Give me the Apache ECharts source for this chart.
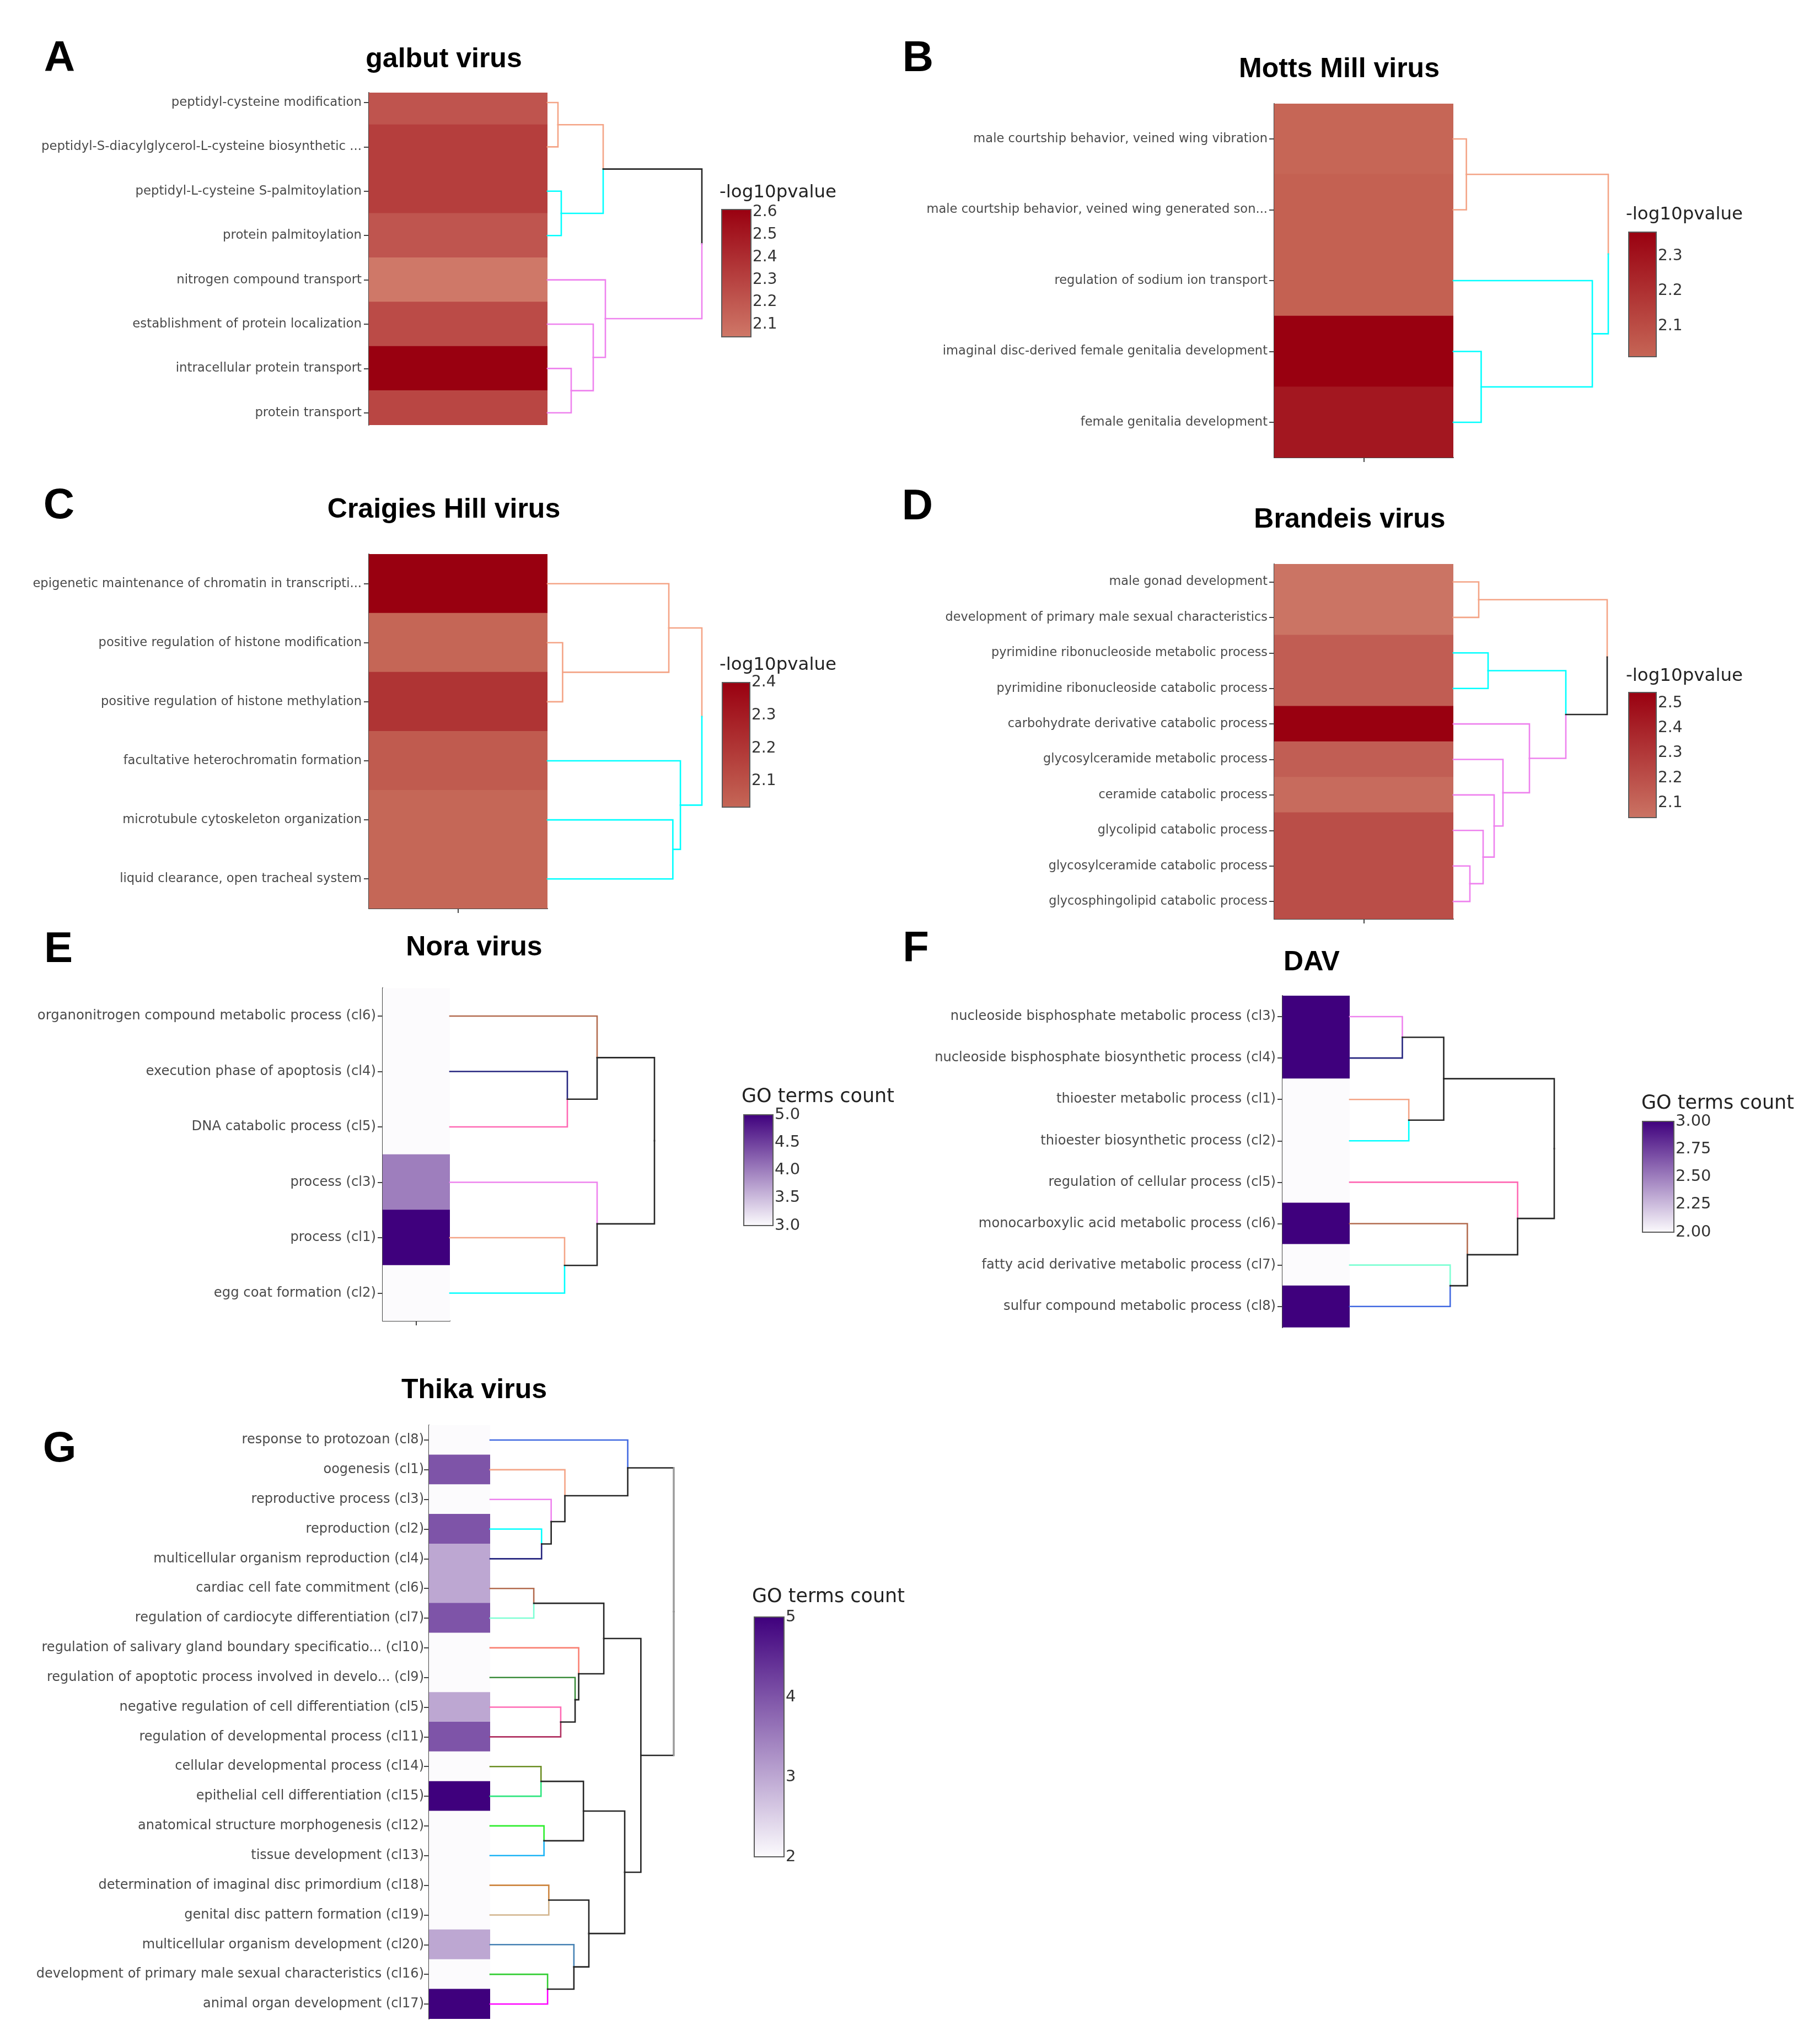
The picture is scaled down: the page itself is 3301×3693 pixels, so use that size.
<!DOCTYPE html>
<html>
<head>
<meta charset="utf-8">
<script src="https://cdn.jsdelivr.net/npm/echarts@6/dist/echarts.min.js"></script>
<style>html,body{margin:0;padding:0;background:#fff}#c{width:3301px;height:3693px}</style>
</head>
<body>
<div id="c"></div>
<script>
// ================= DATA =================
// A: galbut virus
const galbutTerms = ["peptidyl-cysteine modification", "peptidyl-S-diacylglycerol-L-cysteine biosynthetic ...", "peptidyl-L-cysteine S-palmitoylation", "protein palmitoylation", "nitrogen compound transport", "establishment of protein localization", "intracellular protein transport", "protein transport"];
const galbutValues = [2.216, 2.32, 2.32, 2.21, 2.046, 2.258, 2.612, 2.281];
const galbutClusters = ["cl1", "cl1", "cl2", "cl2", "cl3", "cl3", "cl3", "cl3"];
const galbutMerges = [[0, 1, 19], [2, 3, 25], [8, 9, 101], [6, 7, 43], [5, 11, 83], [4, 12, 105], [10, 13, 280]];
const galbutTicks = [2.1, 2.2, 2.3, 2.4, 2.5, 2.6];

// B: Motts Mill virus
const mottsTerms = ["male courtship behavior, veined wing vibration", "male courtship behavior, veined wing generated son...", "regulation of sodium ion transport", "imaginal disc-derived female genitalia development", "female genitalia development"];
const mottsValues = [2.012, 2.03, 2.03, 2.369, 2.287];
const mottsClusters = ["cl1", "cl1", "cl2", "cl2", "cl2"];
const mottsMerges = [[0, 1, 23.6], [3, 4, 50.4], [2, 6, 251.8], [5, 7, 280.7]];
const mottsTicks = [2.1, 2.2, 2.3];

// C: Craigies Hill virus
const craigiesTerms = ["epigenetic maintenance of chromatin in transcripti...", "positive regulation of histone modification", "positive regulation of histone methylation", "facultative heterochromatin formation", "microtubule cytoskeleton organization", "liquid clearance, open tracheal system"];
const craigiesValues = [2.4, 2.025, 2.21, 2.066, 2.021, 2.021];
const craigiesClusters = ["cl1", "cl1", "cl1", "cl2", "cl2", "cl2"];
const craigiesMerges = [[1, 2, 27.4], [0, 6, 219.9], [4, 5, 227.2], [3, 8, 240.9], [7, 9, 279.8]];
const craigiesTicks = [2.1, 2.2, 2.3, 2.4];

// D: Brandeis virus
const brandeisTerms = ["male gonad development", "development of primary male sexual characteristics", "pyrimidine ribonucleoside metabolic process", "pyrimidine ribonucleoside catabolic process", "carbohydrate derivative catabolic process", "glycosylceramide metabolic process", "ceramide catabolic process", "glycolipid catabolic process", "glycosylceramide catabolic process", "glycosphingolipid catabolic process"];
const brandeisValues = [2.041, 2.041, 2.142, 2.142, 2.544, 2.138, 2.08, 2.207, 2.207, 2.207];
const brandeisClusters = ["cl1", "cl1", "cl2", "cl2", "cl3", "cl3", "cl3", "cl3", "cl3", "cl3"];
const brandeisMerges = [[0, 1, 46], [2, 3, 63], [8, 9, 30], [7, 12, 54], [6, 13, 74], [5, 14, 90], [4, 15, 138], [11, 16, 204], [10, 17, 279]];
const brandeisTicks = [2.1, 2.2, 2.3, 2.4, 2.5];

// E: Nora virus
const noraTerms = ["organonitrogen compound metabolic process (cl6)", "execution phase of apoptosis (cl4)", "DNA catabolic process (cl5)", "process (cl3)", "process (cl1)", "egg coat formation (cl2)"];
const noraValues = [3, 3, 3, 4, 5, 3];
const noraClusters = ["cl6", "cl4", "cl5", "cl3", "cl1", "cl2"];
const noraMerges = [[1, 2, 213], [0, 6, 267], [4, 5, 208], [3, 8, 267], [7, 9, 371]];
const noraTicks = [3.0, 3.5, 4.0, 4.5, 5.0];

// F: DAV
const davTerms = ["nucleoside bisphosphate metabolic process (cl3)", "nucleoside bisphosphate biosynthetic process (cl4)", "thioester metabolic process (cl1)", "thioester biosynthetic process (cl2)", "regulation of cellular process (cl5)", "monocarboxylic acid metabolic process (cl6)", "fatty acid derivative metabolic process (cl7)", "sulfur compound metabolic process (cl8)"];
const davValues = [3, 3, 2, 2, 2, 3, 2, 3];
const davClusters = ["cl3", "cl4", "cl1", "cl2", "cl5", "cl6", "cl7", "cl8"];
const davMerges = [[0, 1, 95.4], [2, 3, 107.1], [8, 9, 170.4], [6, 7, 182.1], [5, 11, 213.2], [4, 12, 304.3], [10, 13, 370.7]];
const davTicks = [2.0, 2.25, 2.5, 2.75, 3.0];

// G: Thika virus
const thikaTerms = ["response to protozoan (cl8)", "oogenesis (cl1)", "reproductive process (cl3)", "reproduction (cl2)", "multicellular organism reproduction (cl4)", "cardiac cell fate commitment (cl6)", "regulation of cardiocyte differentiation (cl7)", "regulation of salivary gland boundary specificatio... (cl10)", "regulation of apoptotic process involved in develo... (cl9)", "negative regulation of cell differentiation (cl5)", "regulation of developmental process (cl11)", "cellular developmental process (cl14)", "epithelial cell differentiation (cl15)", "anatomical structure morphogenesis (cl12)", "tissue development (cl13)", "determination of imaginal disc primordium (cl18)", "genital disc pattern formation (cl19)", "multicellular organism development (cl20)", "development of primary male sexual characteristics (cl16)", "animal organ development (cl17)"];
const thikaValues = [2, 4, 2, 4, 3, 3, 4, 2, 2, 3, 4, 2, 5, 2, 2, 2, 2, 3, 2, 5];
const thikaClusters = ["cl8", "cl1", "cl3", "cl2", "cl4", "cl6", "cl7", "cl10", "cl9", "cl5", "cl11", "cl14", "cl15", "cl12", "cl13", "cl18", "cl19", "cl20", "cl16", "cl17"];
const thikaMerges = [[3, 4, 93.2], [2, 20, 110.6], [1, 21, 135.5], [0, 22, 249.4], [5, 6, 79.1], [9, 10, 127.9], [8, 25, 154], [7, 26, 160.5], [24, 27, 206], [11, 12, 92.2], [13, 14, 97.6], [29, 30, 169.1], [15, 16, 106.3], [18, 19, 104.1], [17, 33, 151.8], [32, 34, 178.9], [31, 35, 243.9], [28, 36, 273.2], [23, 37, 332.8]];
const thikaTicks = [2, 3, 4, 5];

// ================= STYLE / LAYOUT =================
const PAL = {cl1:'#F4A486', cl2:'#00FFFF', cl3:'#EE82EE', cl4:'#25257F', cl5:'#FF69B4', cl6:'#B36C4F', cl7:'#7FFFD4', cl8:'#4169E1', cl9:'#3B8C3B', cl10:'#FA8072', cl11:'#B03060', cl12:'#2DEE2D', cl13:'#1EB4F5', cl14:'#6B8E23', cl15:'#2EE57E', cl16:'#32CD32', cl17:'#FF00FF', cl18:'#CD853F', cl19:'#D2B48C', cl20:'#4682B4'};
const MIX = '#262626';
const PURPLE = ['#FCFBFD', '#3F007D'];

const panels = [
  {letter:'A', title:'galbut virus', terms:galbutTerms, values:galbutValues, clusters:galbutClusters, merges:galbutMerges, ticks:galbutTicks, dec:1,
   letterPos:[108,107], titlePos:[805,108], heat:[669,168,993,771], row0:186, step:80.4, rootX:1273, bottomAxis:false,
   cb:[1309,380,1362,611], cbTitle:'-log10pvalue', cbTitlePos:[1305,350], colors:['#CF7868','#990010'], labelSize:22.8, labelMargin:13, cbTitleSize:32.5, tickSize:28},
  {letter:'B', title:'Motts Mill virus', terms:mottsTerms, values:mottsValues, clusters:mottsClusters, merges:mottsMerges, ticks:mottsTicks, dec:1,
   letterPos:[1665,107], titlePos:[2429,126], heat:[2311,188,2636,830], row0:252, step:128.5, rootX:2917, bottomAxis:true,
   cb:[2954,421,3004,647], cbTitle:'-log10pvalue', cbTitlePos:[2949,390], colors:['#C66656','#990010'], labelSize:22.6, labelMargin:12, cbTitleSize:32.5, tickSize:28},
  {letter:'C', title:'Craigies Hill virus', terms:craigiesTerms, values:craigiesValues, clusters:craigiesClusters, merges:craigiesMerges, ticks:craigiesTicks, dec:1,
   letterPos:[107,918], titlePos:[805,925], heat:[669,1005,993,1648], row0:1058.7, step:107.1, rootX:1273, bottomAxis:true,
   cb:[1310,1238,1360,1464], cbTitle:'-log10pvalue', cbTitlePos:[1305,1207], colors:['#C56757','#990010'], labelSize:22.6, labelMargin:13, cbTitleSize:32.5, tickSize:28},
  {letter:'D', title:'Brandeis virus', terms:brandeisTerms, values:brandeisValues, clusters:brandeisClusters, merges:brandeisMerges, ticks:brandeisTicks, dec:1,
   letterPos:[1664,920], titlePos:[2448,943], heat:[2311,1023,2636,1667], row0:1055.5, step:64.4, rootX:2915, bottomAxis:true,
   cb:[2954,1256,3004,1483], cbTitle:'-log10pvalue', cbTitlePos:[2949,1227], colors:['#CB7464','#990010'], labelSize:22.4, labelMargin:12, cbTitleSize:32.5, tickSize:28},
  {letter:'E', title:'Nora virus', terms:noraTerms, values:noraValues, clusters:noraClusters, merges:noraMerges, ticks:noraTicks, dec:1,
   letterPos:[106,1723], titlePos:[860,1719], heat:[694,1792,816,2396], row0:1843, step:100.5, rootX:1187, bottomAxis:true,
   cb:[1349,2022,1402,2223], cbTitle:'GO terms count', cbTitlePos:[1345,1990], colors:PURPLE, labelSize:24.3, labelMargin:12, cbTitleSize:35, tickSize:29},
  {letter:'F', title:'DAV', terms:davTerms, values:davValues, clusters:davClusters, merges:davMerges, ticks:davTicks, dec:2,
   letterPos:[1661,1722], titlePos:[2379,1746], heat:[2326,1806,2448,2408], row0:1844, step:75.1, rootX:2819, bottomAxis:false,
   cb:[2979,2034,3036,2235], cbTitle:'GO terms count', cbTitlePos:[2977,2002], colors:PURPLE, labelSize:24.2, labelMargin:12, cbTitleSize:35, tickSize:29},
  {letter:'G', title:'Thika virus', terms:thikaTerms, values:thikaValues, clusters:thikaClusters, merges:thikaMerges, ticks:thikaTicks, dec:0,
   letterPos:[108,2629], titlePos:[860,2522], heat:[778,2585,889,3662], row0:2612, step:53.84, rootX:1222, bottomAxis:false,
   cb:[1368,2933,1422,3368], cbTitle:'GO terms count', cbTitlePos:[1364,2897], colors:PURPLE, labelSize:24, labelMargin:9, cbTitleSize:35, tickSize:29, rootStem:'#9c9c9c'}
];

// ================= BUILD =================
function buildDendro(n, merges, clusters, rootStem) {
  const y = [], h = [], col = [];
  for (let i = 0; i < n; i++) { y[i] = i; h[i] = 0; col[i] = PAL[clusters[i]]; }
  const segs = [];
  merges.forEach((m, k) => {
    const a = m[0], b = m[1], ht = m[2], id = n + k;
    y[id] = (y[a] + y[b]) / 2; h[id] = ht;
    col[id] = (col[a] === col[b]) ? col[a] : MIX;
    [a, b].forEach(c => segs.push({coords: [[ht, y[id]], [ht, y[c]], [h[c], y[c]]], lineStyle: {color: col[c]}}));
    if (rootStem && k === merges.length - 1) {
      segs.push({coords: [[ht, y[a]], [ht, y[b]]], lineStyle: {color: rootStem}});
    }
  });
  return segs;
}

const grid = [], xAxis = [], yAxis = [], series = [], visualMap = [], graphic = [];
const LABEL_FONT = 'DejaVu Sans';

panels.forEach(p => {
  const n = p.terms.length;
  const [hx0, hy0, hx1, hy1] = p.heat;
  const ymin = (hy0 - p.row0) / p.step, ymax = (hy1 - p.row0) / p.step;
  const idx = p.terms.map((t, i) => i);

  // heatmap grid
  let gi = grid.length;
  grid.push({left: hx0, top: hy0, width: hx1 - hx0, height: hy1 - hy0, containLabel: false});
  xAxis.push({type: 'value', gridIndex: gi, min: 0, max: 1,
    axisLine: {show: p.bottomAxis, onZero: false, lineStyle: {color: '#444', width: 2}},
    axisTick: {show: p.bottomAxis, customValues: [0.5], length: 8, lineStyle: {color: '#444', width: 2}},
    axisLabel: {show: false}, splitLine: {show: false}});
  yAxis.push({type: 'value', gridIndex: gi, min: ymin, max: ymax, inverse: true,
    axisLine: {show: true, onZero: false, lineStyle: {color: '#444', width: 2}},
    axisTick: {show: true, customValues: idx, length: 9, lineStyle: {color: '#444', width: 2}},
    axisLabel: {show: true, customValues: idx, formatter: v => p.terms[Math.round(v)], fontFamily: LABEL_FONT, fontSize: p.labelSize, color: '#4a4a4a', margin: p.labelMargin},
    splitLine: {show: false}});
  const heatSeries = series.length;
  series.push({type: 'custom', coordinateSystem: 'cartesian2d', xAxisIndex: gi, yAxisIndex: gi, clip: true, silent: true, z: 1,
    data: p.values.map((v, i) => [0.5, i, v]), encode: {x: 0, y: 1},
    renderItem: (params, api) => {
      const i = api.value(1);
      const a = api.coord([0, i - 0.5]), b = api.coord([1, i + 0.5]);
      return {type: 'rect', shape: {x: Math.min(a[0], b[0]), y: Math.min(a[1], b[1]) - 0.5, width: Math.abs(b[0] - a[0]), height: Math.abs(b[1] - a[1]) + 1},
        style: {fill: api.visual('color')}};
    }});
  const vmin = Math.min(...p.values), vmax = Math.max(...p.values);
  visualMap.push({type: 'continuous', show: false, seriesIndex: heatSeries, dimension: 2, min: vmin, max: vmax, inRange: {color: p.colors}});

  // dendrogram grid
  gi = grid.length;
  const rootH = p.merges[p.merges.length - 1][2];
  grid.push({left: hx1, top: hy0, width: p.rootX - hx1, height: hy1 - hy0});
  xAxis.push({type: 'value', gridIndex: gi, min: 0, max: rootH, show: false, splitLine: {show: false}});
  yAxis.push({type: 'value', gridIndex: gi, min: ymin, max: ymax, inverse: true, show: false, splitLine: {show: false}});
  series.push({type: 'lines', coordinateSystem: 'cartesian2d', xAxisIndex: gi, yAxisIndex: gi, polyline: true, silent: true, z: 3,
    lineStyle: {width: 2.6, opacity: 1, cap: 'square', join: 'miter'},
    data: buildDendro(n, p.merges, p.clusters, p.rootStem)});

  // colorbar grid
  gi = grid.length;
  const [cx0, cy0, cx1, cy1] = p.cb;
  grid.push({left: cx0, top: cy0, width: cx1 - cx0, height: cy1 - cy0});
  xAxis.push({type: 'value', gridIndex: gi, min: 0, max: 1, show: false, splitLine: {show: false}});
  yAxis.push({type: 'value', gridIndex: gi, min: vmin, max: vmax, position: 'right',
    axisLine: {show: false},
    axisTick: {show: true, customValues: p.ticks, length: 6, inside: false, lineStyle: {color: '#555', width: 2}},
    axisLabel: {show: true, customValues: p.ticks, formatter: v => Number(v).toFixed(p.dec), fontFamily: LABEL_FONT, fontSize: p.tickSize, color: '#333', margin: 3},
    splitLine: {show: false}});
  const cols = p.colors;
  series.push({type: 'custom', coordinateSystem: 'cartesian2d', xAxisIndex: gi, yAxisIndex: gi, silent: true, clip: false,
    data: [[0, vmin, vmax]], encode: {x: 0, y: [1, 2]},
    renderItem: (params, api) => {
      const t = api.coord([0, api.value(2)]), b = api.coord([1, api.value(1)]);
      return {type: 'rect', shape: {x: t[0], y: t[1], width: b[0] - t[0], height: b[1] - t[1]},
        style: {fill: new echarts.graphic.LinearGradient(0, 0, 0, 1, [{offset: 0, color: cols[1]}, {offset: 1, color: cols[0]}]), stroke: '#5a5a5a', lineWidth: 2}};
    }});

  // texts
  graphic.push({type: 'text', x: p.letterPos[0], y: p.letterPos[1], silent: true,
    style: {text: p.letter, font: 'bold 78px "Liberation Sans", Arial, sans-serif', fill: '#000', textAlign: 'center', textVerticalAlign: 'middle'}});
  graphic.push({type: 'text', x: p.titlePos[0], y: p.titlePos[1], silent: true,
    style: {text: p.title, font: 'bold 50px "Liberation Sans", Arial, sans-serif', fill: '#000', textAlign: 'center', textVerticalAlign: 'middle'}});
  graphic.push({type: 'text', x: p.cbTitlePos[0], y: p.cbTitlePos[1], silent: true,
    style: {text: p.cbTitle, font: p.cbTitleSize + 'px "DejaVu Sans", sans-serif', fill: '#222', textAlign: 'left', textVerticalAlign: 'middle'}});
});

const chart = echarts.init(document.getElementById('c'), null, {renderer: 'canvas', width: 3301, height: 3693});
chart.setOption({backgroundColor: '#ffffff', animation: false, grid, xAxis, yAxis, series, visualMap, graphic});
</script>
</body>
</html>
